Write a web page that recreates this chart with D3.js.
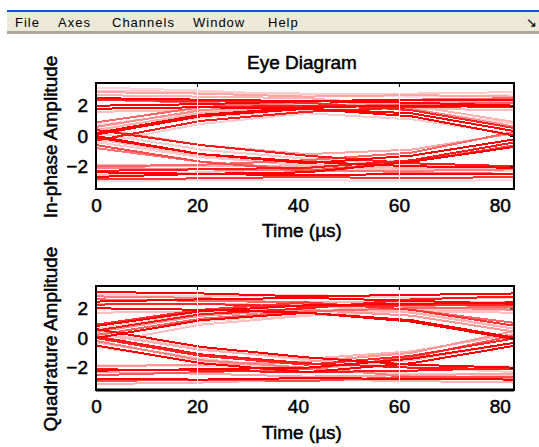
<!DOCTYPE html>
<html>
<head>
<meta charset="utf-8">
<script src="https://d3js.org/d3.v7.min.js"></script>
<style>
  body { margin: 0; background: #fff; overflow: hidden; }
  svg text { font-family: "Liberation Sans", Arial, sans-serif; }
</style>
</head>
<body>
<div id="chart"></div>
<script>
// Menu bar labels
const menuItems = ["File", "Axes", "Channels", "Window", "Help"];
const menuX = [15, 58, 112, 193, 268];

// Sample instants of each trace (µs)
const timeSamples = [0, 20.8, 41.7, 62.5, 83.3];
const xTicks = [0, 20, 40, 60, 80];
const yTicks = [-2, 0, 2];

// In-phase traces, one value per sample instant
const inphaseTraces = [
  [2.9, 2.8, 2.6, 2.7, 2.6],
  [2.5, 2.4, 2.3, 2.4, 2.4],
  [1.8, 1.9, 2.0, 2.0, 1.9],
  [3.2, 3.0, 2.7, 2.6, 2.7],
  [2.4, 2.2, 1.9, 2.1, 2.2],
  [2.0, 2.1, 2.3, 2.2, 2.0],
  [-2.1, -2.2, -2.3, -2.3, -2.2],
  [-2.4, -2.5, -2.6, -2.5, -2.5],
  [-2.85, -2.8, -2.7, -2.8, -2.7],
  [-2.6, -2.4, -2.1, -2.2, -2.1],
  [0.2, 1.4, 1.9, 2.0, 2.0],
  [0.9, 1.9, 2.3, 2.4, 2.5],
  [-0.3, 1.0, 1.6, 1.9, 2.0],
  [0.4, 1.5, 2.0, 2.2, 2.3],
  [0.1, 1.3, 1.8, 1.5, 0.3],
  [0.6, 1.7, 2.2, 1.8, 0.6],
  [-0.5, 0.8, 1.5, 1.1, 0.1],
  [2.4, 2.3, 2.2, 1.7, 0.5],
  [1.8, 1.9, 1.8, 1.3, 0.0],
  [2.7, 2.6, 2.5, 2.0, 0.9],
  [-0.1, -1.2, -1.7, -2.0, -2.1],
  [-0.8, -1.7, -2.2, -2.4, -2.5],
  [0.4, -0.6, -1.3, -1.8, -2.0],
  [-0.4, -1.4, -1.9, -2.2, -2.3],
  [0.0, -1.2, -1.8, -1.3, -0.2],
  [-0.6, -1.7, -2.3, -1.7, -0.6],
  [0.5, -0.6, -1.2, -0.9, 0.2],
  [-2.3, -2.2, -2.1, -1.6, -0.4],
  [-2.0, -1.9, -1.6, -1.1, 0.3],
  [-2.7, -2.5, -2.4, -1.7, -0.7],
  [3.0, 2.9, 2.8, 2.8, 2.9],
  [1.6, 1.7, 1.7, 1.8, 1.7],
  [-1.9, -2.0, -2.0, -2.1, -2.0],
  [-3.0, -2.9, -2.9, -3.0, -2.9],
  [0.7, 1.6, 2.1, 1.7, 0.8],
  [-0.2, -1.3, -2.0, -1.6, -0.4],
  [0.3, 1.2, 1.7, 1.9, 2.1],
  [0.2, -0.9, -1.5, -1.9, -2.2]
];
// persistence intensity of each in-phase trace (0 = faded, 1 = newest)
const inphaseShades = [0.35, 1, 0.9, 0.15, 0.6, 1, 0.5, 1, 0.8, 0.25,
  1, 0.6, 0.9, 0.3, 1, 0.45, 0.2, 0.85, 1, 0.3,
  1, 0.55, 0.9, 0.2, 1, 0.7, 0.35, 0.9, 0.6, 1,
  0.2, 0.25, 0.3, 0.15, 0.2, 0.25, 0.15, 0.2];

// Quadrature traces
const quadTraces = [
  [3.1, 3.0, 2.8, 2.9, 3.0],
  [2.6, 2.5, 2.4, 2.4, 2.45],
  [2.25, 2.3, 2.1, 2.2, 2.25],
  [2.0, 1.9, 1.8, 1.9, 2.0],
  [2.45, 2.6, 2.7, 2.5, 2.3],
  [2.8, 2.7, 2.3, 2.1, 1.9],
  [-2.1, -2.2, -2.3, -2.2, -2.0],
  [-2.3, -2.4, -2.6, -2.5, -2.4],
  [-2.75, -2.8, -2.7, -2.75, -2.8],
  [-2.9, -2.8, -2.9, -2.6, -2.6],
  [0.2, 1.3, 1.8, 2.0, 2.1],
  [0.8, 1.8, 2.2, 2.3, 2.4],
  [-0.4, 0.9, 1.5, 1.8, 1.9],
  [0.5, 1.6, 2.0, 2.6, 2.8],
  [0.4, 1.5, 1.9, 1.5, 0.4],
  [0.0, 1.2, 1.7, 1.2, 0.0],
  [0.9, 1.9, 2.4, 1.9, 0.8],
  [2.3, 2.3, 2.2, 1.7, 0.6],
  [2.0, 1.9, 1.7, 1.1, -0.1],
  [2.6, 2.5, 2.4, 1.9, 1.0],
  [0.1, -1.1, -1.7, -2.0, -2.1],
  [-0.6, -1.6, -2.1, -2.4, -2.5],
  [0.6, -0.6, -1.3, -1.8, -2.0],
  [-0.2, -1.5, -2.0, -2.6, -2.8],
  [0.0, -1.2, -1.8, -1.2, 0.0],
  [-0.5, -1.7, -2.3, -1.7, -0.5],
  [0.3, -0.8, -1.4, -0.9, 0.3],
  [-2.2, -2.1, -2.0, -1.4, -0.3],
  [-2.5, -2.3, -2.1, -1.3, 0.2],
  [-1.9, -1.8, -1.6, -1.0, 0.5],
  [2.9, 2.8, 2.9, 2.7, 2.7],
  [1.7, 1.8, 1.9, 1.8, 1.7],
  [-1.8, -1.9, -2.0, -1.9, -1.9],
  [-3.1, -3.0, -2.8, -2.9, -3.0],
  [0.6, 1.7, 2.2, 1.8, 0.6],
  [-0.3, -1.4, -2.1, -1.5, -0.3],
  [0.1, 1.1, 1.6, 1.9, 2.2],
  [0.4, -0.7, -1.5, -2.0, -2.3]
];
const quadShades = [1, 0.3, 0.85, 0.2, 1, 0.5, 0.9, 0.35, 1, 0.7,
  0.6, 1, 0.25, 0.9, 0.4, 1, 0.8, 0.3, 1, 0.6,
  0.9, 0.2, 1, 0.5, 0.85, 1, 0.3, 1, 0.65, 0.4,
  0.2, 0.25, 0.15, 0.3, 0.2, 0.25, 0.15, 0.2];

const width = 539, height = 447;

const svg = d3.select("#chart").append("svg")
  .attr("width", width)
  .attr("height", height);

svg.append("rect").attr("width", width).attr("height", height).attr("fill", "#fff");

// Window menu bar
svg.append("rect").attr("x", 7).attr("y", 10).attr("width", width - 7).attr("height", 2).attr("fill", "#0b55e0");
svg.append("rect").attr("x", 7).attr("y", 12).attr("width", width - 7).attr("height", 19).attr("fill", "#ece9d8");
svg.append("rect").attr("x", 7).attr("y", 31).attr("width", width - 7).attr("height", 3).attr("fill", "#aca899");

svg.selectAll(".menu")
  .data(menuItems)
  .join("text")
    .attr("class", "menu")
    .attr("x", (d, i) => menuX[i])
    .attr("y", 27)
    .attr("font-size", 13)
    .attr("letter-spacing", 1)
    .attr("fill", "#000")
    .text(d => d);

svg.append("text")
  .attr("x", 526).attr("y", 27)
  .attr("font-size", 13)
  .text("↘");

const shadeColor = d3.interpolateRgb("#ffffff", "#ff0000");

// heavier text, like the bitmap font in the screenshot
function heavy(sel) {
  sel.attr("font-size", 19)
    .attr("fill", "#000")
    .attr("stroke", "#000")
    .attr("stroke-width", 0.5)
    .attr("font-family", "Liberation Sans, Arial, sans-serif");
}

// Draw one eye diagram panel
function drawPanel(cfg) {
  const x = d3.scaleLinear().domain([0, 82.8]).range([cfg.left, cfg.right]);
  const y = d3.scaleLinear().domain([-3.5, 3.5]).range([cfg.bottom, cfg.top]);

  const g = svg.append("g");

  g.append("clipPath").attr("id", cfg.id)
    .append("rect")
      .attr("x", cfg.left).attr("y", cfg.top)
      .attr("width", cfg.right - cfg.left).attr("height", cfg.bottom - cfg.top);

  const line = d3.line()
    .x((d, i) => x(timeSamples[i]))
    .y(d => y(d));

  // oldest (faded) traces first, newest on top
  const order = d3.range(cfg.traces.length).sort((a, b) => cfg.shades[a] - cfg.shades[b]);

  g.append("g")
    .attr("clip-path", `url(#${cfg.id})`)
    .selectAll("path")
    .data(order)
    .join("path")
      .attr("d", i => line(cfg.traces[i]))
      .attr("fill", "none")
      .attr("stroke", i => shadeColor(cfg.shades[i]))
      .attr("stroke-width", 2)
      .attr("shape-rendering", "crispEdges");

  // white seams where the trace segments meet
  g.selectAll(".seam")
    .data([20, 60])
    .join("line")
      .attr("class", "seam")
      .attr("x1", d => Math.round(x(d)) + 0.5).attr("x2", d => Math.round(x(d)) + 0.5)
      .attr("y1", cfg.top + 2).attr("y2", cfg.bottom - 2)
      .attr("stroke", "#fff").attr("stroke-width", 1);

  // box
  g.append("rect")
    .attr("x", cfg.left).attr("y", cfg.top)
    .attr("width", cfg.right - cfg.left).attr("height", cfg.bottom - cfg.top)
    .attr("fill", "none").attr("stroke", "#000").attr("stroke-width", 2);
  g.append("line")
    .attr("x1", cfg.left).attr("x2", cfg.right)
    .attr("y1", cfg.bottom).attr("y2", cfg.bottom)
    .attr("stroke", "#000").attr("stroke-width", cfg.bottomWidth);

  // inward ticks on top and right
  g.append("g")
    .attr("transform", `translate(0,${cfg.top})`)
    .call(d3.axisBottom(x).tickValues([20, 60]).tickSize(4).tickFormat(""))
    .call(a => a.select(".domain").remove());
  g.append("g")
    .attr("transform", `translate(${cfg.right},0)`)
    .call(d3.axisLeft(y).tickValues(yTicks).tickSize(4).tickFormat(""))
    .call(a => a.select(".domain").remove());

  // tick labels
  g.append("g")
    .attr("transform", `translate(0,${cfg.bottom})`)
    .call(d3.axisBottom(x).tickValues(xTicks).tickSize(0).tickPadding(10).tickFormat(d3.format("d")))
    .call(a => a.select(".domain").remove())
    .call(a => a.selectAll("text").call(heavy));
  g.append("g")
    .attr("transform", `translate(${cfg.left},0)`)
    .call(d3.axisLeft(y).tickValues(yTicks).tickSize(0).tickPadding(8).tickFormat(d3.format("d")))
    .call(a => a.select(".domain").remove())
    .call(a => a.selectAll("text").call(heavy));

  // axis titles
  g.append("text")
    .attr("x", 302).attr("y", cfg.xLabelY)
    .attr("text-anchor", "middle")
    .call(heavy)
    .text("Time (µs)");
  g.append("text")
    .attr("transform", `translate(57,${(cfg.top + cfg.bottom) / 2 + 1}) rotate(-90)`)
    .attr("text-anchor", "middle")
    .call(heavy)
    .text(cfg.yLabel);
}

drawPanel({
  id: "clip-i", left: 96, right: 514, top: 83, bottom: 189, bottomWidth: 2,
  traces: inphaseTraces, shades: inphaseShades,
  yLabel: "In-phase Amplitude", xLabelY: 237
});
drawPanel({
  id: "clip-q", left: 96, right: 514, top: 286, bottom: 390, bottomWidth: 3,
  traces: quadTraces, shades: quadShades,
  yLabel: "Quadrature Amplitude", xLabelY: 439
});

svg.append("text")
  .attr("x", 302).attr("y", 69)
  .attr("text-anchor", "middle")
  .call(heavy)
  .text("Eye Diagram");
</script>
</body>
</html>
